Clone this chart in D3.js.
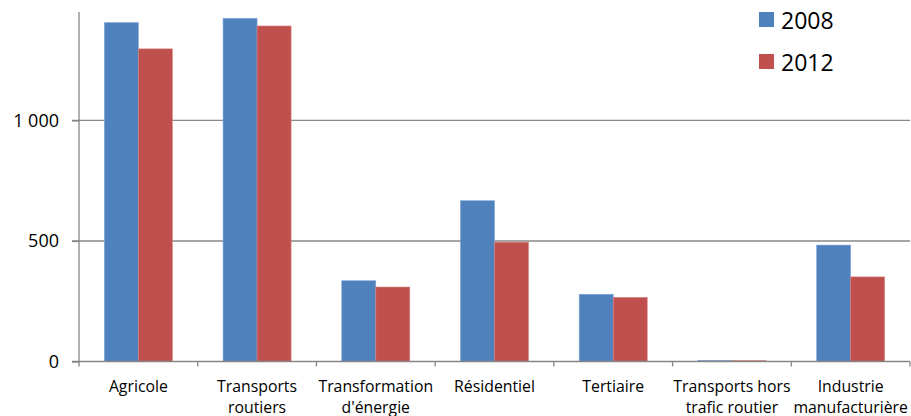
<!DOCTYPE html>
<html><head><meta charset="utf-8">
<script src="https://cdn.jsdelivr.net/npm/d3@7"></script>
<style>body{margin:0;background:#fff}svg{display:block}text{font-family:"Open Sans",sans-serif;fill:#000}</style>
</head><body><svg id="c" width="911" height="416"></svg>
<script>
const categories = ["Agricole","Transports routiers","Transformation d'énergie","Résidentiel","Tertiaire","Transports hors trafic routier","Industrie manufacturière"];
const categoryLines = [["Agricole"],["Transports","routiers"],["Transformation","d'énergie"],["Résidentiel"],["Tertiaire"],["Transports hors","trafic routier"],["Industrie","manufacturière"]];
const seriesNames = ["2008","2012"];
const values2008 = [1406,1424,335,667,279,5,483];
const values2012 = [1297,1392,309,495,266,4,351];
const yTicks = [0,500,1000];
const yTickLabels = ["0","500","1 000"];
const colors = ["#4f81bd","#c0504d"];

const svg = d3.select("#c");
const x0 = 79, x1 = 910, yTop = 12, yBot = 361.5;
const x = d3.scaleBand().domain(categories).range([x0,x1]).paddingInner(0).paddingOuter(0);
const y = d3.scaleLinear().domain([0,1450]).range([yBot,yTop]);
const xs = d3.scaleBand().domain(seriesNames).range([0,x.bandwidth()]).paddingInner(0).paddingOuter(0.745);

// gridlines
svg.append("g").selectAll("line").data(yTicks.filter(d=>d>0)).join("line")
  .attr("x1",72).attr("x2",x1).attr("y1",d=>y(d)).attr("y2",d=>y(d))
  .attr("stroke","#898989").attr("stroke-width",1.3);

// bars
const data = categories.map((c,i)=>({c, v:[values2008[i],values2012[i]]}));
const g = svg.append("g");
data.forEach(d=>{
  seriesNames.forEach((s,j)=>{
    g.append("rect").attr("x",x(d.c)+xs(s)).attr("width",xs.bandwidth())
      .attr("y",y(d.v[j])).attr("height",yBot-y(d.v[j]))
      .attr("fill",colors[j]).attr("stroke",j===0?"#7fa6d6":"#d88482").attr("stroke-width",0.6);
  });
});

// y axis
const yAxis = d3.axisLeft(y).tickValues(yTicks).tickFormat((d,i)=>yTickLabels[i]).tickSize(7).tickPadding(13);
const ya = svg.append("g").attr("transform",`translate(${x0},0)`).call(yAxis);
ya.select(".domain").attr("d",`M0,${yTop}V${yBot}`).attr("stroke","#868686").attr("stroke-width",1.3);
ya.selectAll(".tick line").attr("stroke","#868686").attr("stroke-width",1.3);
ya.selectAll(".tick text").style("font-size","18px").attr("fill","#000");

// x axis
const xAxis = d3.axisBottom(x).tickValues([]).tickSize(0);
const xa = svg.append("g").attr("transform",`translate(0,${yBot})`).call(xAxis);
xa.select(".domain").attr("d",`M${72},0H${x1}`).attr("stroke","#868686").attr("stroke-width",1.3);
const bounds = categories.map(c=>x(c)).concat([x1]);
xa.selectAll("line.tk").data(bounds).join("line").attr("class","tk")
  .attr("x1",d=>d).attr("x2",d=>d).attr("y1",0).attr("y2",5).attr("stroke","#868686").attr("stroke-width",1.3);
categories.forEach((c,i)=>{
  const t = svg.append("text").attr("text-anchor","middle").style("font-size","15.8px");
  categoryLines[i].forEach((ln,k)=>{
    t.append("tspan").attr("x",x(c)+x.bandwidth()/2).attr("y",392+k*21).text(ln);
  });
});

// legend
seriesNames.forEach((s,i)=>{
  const ly = 12 + i*42;
  svg.append("rect").attr("x",759).attr("y",ly).attr("width",15).attr("height",15).attr("fill",colors[i]);
  svg.append("text").attr("x",781).attr("y",ly+17).style("font-size","23px").text(s);
});
</script></body></html>
